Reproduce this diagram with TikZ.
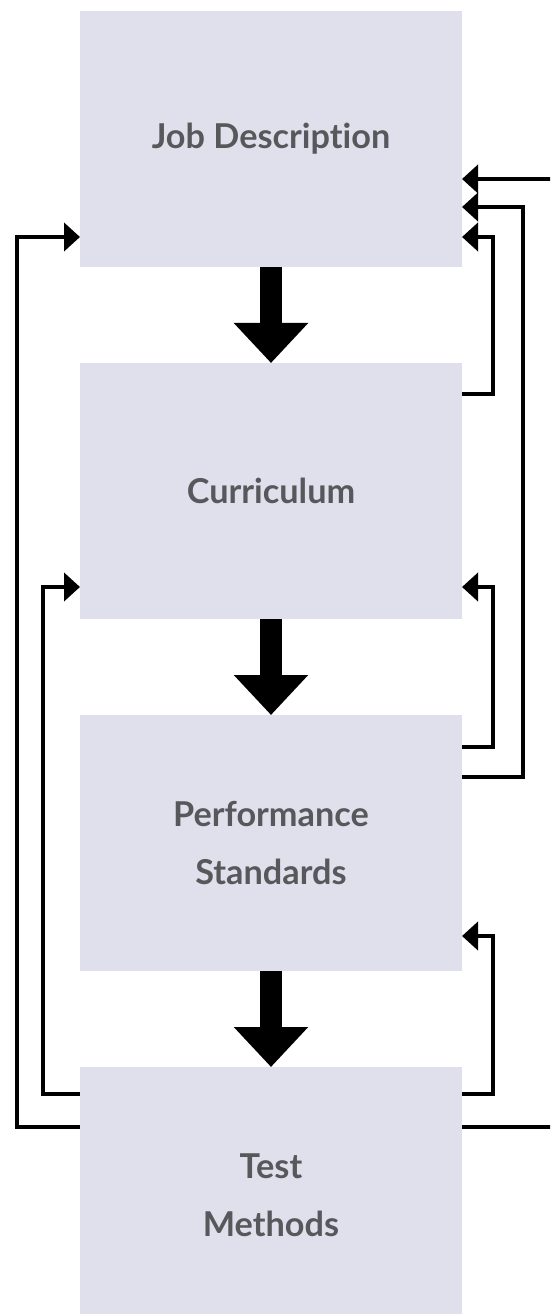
\documentclass[tikz,border=0pt]{standalone}
\usepackage{fontspec}
\setmainfont{Lato}[Ligatures=NoCommon]
\usetikzlibrary{positioning,arrows.meta}
\definecolor{boxfill}{RGB}{224,224,236}
\definecolor{boxtext}{RGB}{88,88,92}
\tikzset{
  stage/.style={fill=boxfill, minimum width=7.64cm, minimum height=5.12cm,
    inner sep=0pt, outer sep=0pt, align=center, text=boxtext,
    font=\fontsize{19.5}{33}\selectfont\bfseries},
  flow/.style={line width=0.44cm, -{Triangle[length=0.8cm,width=1.44cm]}},
  back/.style={line width=0.09cm, -{Triangle[length=0.32cm,width=0.56cm]}}
}
\begin{document}
\begin{tikzpicture}
            \clip (0,0) rectangle (11,-26.28);
            \node[stage] (job) at (5.42,-2.78) {Job Description};
            \node[stage, below=1.92cm of job] (cur) {Curriculum};
            \node[stage, below=1.92cm of cur] (perf) {Performance\\Standards};
            \node[stage, below=1.92cm of perf] (test) {Test\\Methods};
            \draw[flow] (job) -- (cur);
            \draw[flow] (cur) -- (perf);
            \draw[flow] (perf) -- (test);
            \draw[back] ([yshift=-0.62cm]cur.north east) -- ++(0.62,0) |- ([yshift=0.6cm]job.south east);
            \draw[back] ([yshift=-0.64cm]perf.north east) -- ++(0.62,0) |- ([yshift=0.64cm]cur.south east);
            \draw[back] ([yshift=-0.54cm]test.north east) -- ++(0.62,0) |- ([yshift=0.7cm]perf.south east);
            \draw[back] ([yshift=-1.24cm]perf.north east) -- ++(1.22,0) |- ([yshift=1.2cm]job.south east);
            \draw[back] ([yshift=-1.2cm]test.north east) -- ++(2.2,0) |- ([yshift=1.76cm]job.south east);
            \draw[back] ([yshift=-0.54cm]test.north west) -- ++(-0.74,0) |- ([yshift=0.64cm]cur.south west);
            \draw[back] ([yshift=-1.2cm]test.north west) -- ++(-1.26,0) |- ([yshift=0.6cm]job.south west);
        \end{tikzpicture}
\end{document}
